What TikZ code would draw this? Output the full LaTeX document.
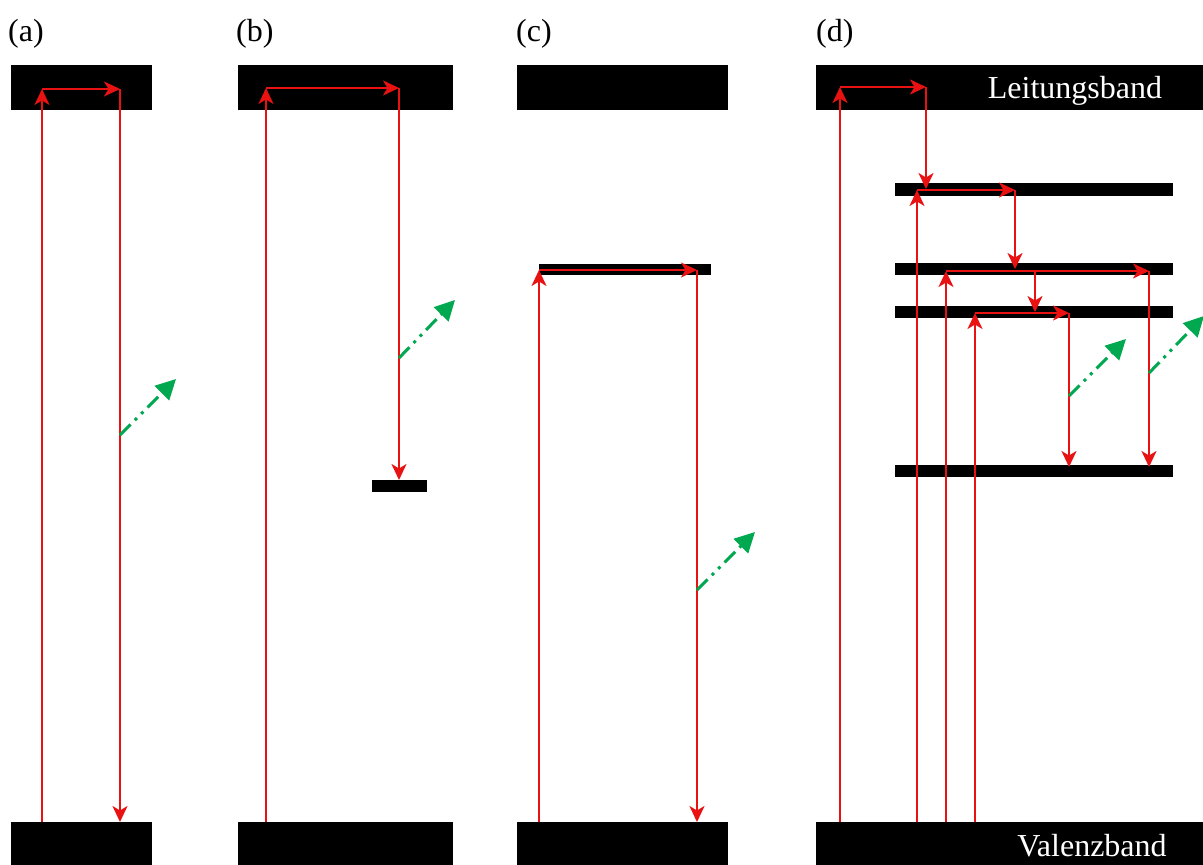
\documentclass[tikz,border=0pt]{standalone}
\usepackage{fontspec}
\setmainfont{Liberation Serif}
\usetikzlibrary{arrows.meta}
\definecolor{rd}{RGB}{232,18,18}
\definecolor{gr}{RGB}{0,168,80}
\begin{document}
\begin{tikzpicture}[x=1pt,y=-1pt,
 band/.style={fill=black,draw=none,inner sep=0pt,outer sep=0pt,anchor=north west},
 ra/.style={draw=rd,line width=2.2pt,-{Stealth[length=16pt,width=15pt,inset=4.5pt]}},
 ga/.style={draw=gr,line width=3pt,dash pattern=on 15pt off 6pt on 3pt off 6pt on 3pt off 6pt,-{Triangle[length=20pt,width=20pt]}},
 lbl/.style={font=\fontsize{32}{38}\selectfont,inner sep=0pt,anchor=base west},
 btxt/.style={font=\fontsize{32}{38}\selectfont,text=white,inner sep=0pt,anchor=base}]
\useasboundingbox (0,0) rectangle (1203,865);
% labels
\node[lbl] (la) at (8,41) {(a)};
\node[lbl] (lb) at (236,41) {(b)};
\node[lbl] (lc) at (516,41) {(c)};
\node[lbl] (ld) at (816,41) {(d)};
% bands (a)
\node[band,minimum width=141pt,minimum height=45pt] (aTop) at (11,65) {};
\node[band,minimum width=141pt,minimum height=43pt] (aBot) at (11,822) {};
% bands (b)
\node[band,minimum width=215pt,minimum height=45pt] (bTop) at (238,65) {};
\node[band,minimum width=215pt,minimum height=43pt] (bBot) at (238,822) {};
\node[band,minimum width=55pt,minimum height=12pt] (bLev) at (372,480) {};
% bands (c)
\node[band,minimum width=211pt,minimum height=45pt] (cTop) at (517,65) {};
\node[band,minimum width=211pt,minimum height=43pt] (cBot) at (517,822) {};
\node[band,minimum width=172pt,minimum height=11pt] (cLev) at (539,264) {};
% bands (d)
\node[band,minimum width=387pt,minimum height=45pt] (dTop) at (816,65) {};
\node[band,minimum width=387pt,minimum height=43pt] (dBot) at (816,822) {};
\node[band,minimum width=278pt,minimum height=13pt] (d1) at (895,183) {};
\node[band,minimum width=278pt,minimum height=12pt] (d2) at (895,263) {};
\node[band,minimum width=278pt,minimum height=12pt] (d3) at (895,306) {};
\node[band,minimum width=278pt,minimum height=12pt] (d4) at (895,465) {};
\node[btxt] (lt) at (1075,98) {Leitungsband};
\node[btxt] (vt) at (1092,856) {Valenzband};
% (a) arrows
\coordinate (a0) at (42,822); \coordinate (a1) at (42,89);
\coordinate (a2) at (120,89); \coordinate (a3) at (120,822);
\draw[ra] (a0) -- (a1); \draw[ra] (a1) -- (a2); \draw[ra] (a2) -- (a3);
\coordinate (ag0) at (120,435); \coordinate (ag1) at (176,379);
\draw[ga] (ag0) -- (ag1);
% (b) arrows
\coordinate (b0) at (266,822); \coordinate (b1) at (266,88);
\coordinate (b2) at (399,88); \coordinate (b3) at (399,480);
\draw[ra] (b0) -- (b1); \draw[ra] (b1) -- (b2); \draw[ra] (b2) -- (b3);
\coordinate (bg0) at (399,358); \coordinate (bg1) at (455,300);
\draw[ga] (bg0) -- (bg1);
% (c) arrows
\coordinate (c0) at (539,822); \coordinate (c1) at (539,270);
\coordinate (c2) at (697,270); \coordinate (c3) at (697,822);
\draw[ra] (c0) -- (c1); \draw[ra] (c1) -- (c2); \draw[ra] (c2) -- (c3);
\coordinate (cg0) at (697,590); \coordinate (cg1) at (755,532);
\draw[ga] (cg0) -- (cg1);
% (d) arrows
\coordinate (p10) at (840,822); \coordinate (p11) at (840,87);
\coordinate (p12) at (926,87); \coordinate (p13) at (926,189);
\draw[ra] (p10) -- (p11); \draw[ra] (p11) -- (p12); \draw[ra] (p12) -- (p13);
\coordinate (p20) at (917,822); \coordinate (p21) at (917,190);
\coordinate (p22) at (1015,190); \coordinate (p23) at (1015,269);
\draw[ra] (p20) -- (p21); \draw[ra] (p21) -- (p22); \draw[ra] (p22) -- (p23);
\coordinate (p30) at (946,822); \coordinate (p31) at (946,271);
\coordinate (p32) at (1149,271); \coordinate (p33) at (1149,467);
\draw[ra] (p30) -- (p31); \draw[ra] (p31) -- (p32); \draw[ra] (p32) -- (p33);
\coordinate (p40) at (1035,271); \coordinate (p41) at (1035,312);
\draw[ra] (p40) -- (p41);
\coordinate (p50) at (975,822); \coordinate (p51) at (975,313);
\coordinate (p52) at (1069,313); \coordinate (p53) at (1069,467);
\draw[ra] (p50) -- (p51); \draw[ra] (p51) -- (p52); \draw[ra] (p52) -- (p53);
\coordinate (dg0) at (1069,396); \coordinate (dg1) at (1126,339);
\draw[ga] (dg0) -- (dg1);
\coordinate (dg2) at (1149,373); \coordinate (dg3) at (1204,316);
\draw[ga] (dg2) -- (dg3);
\end{tikzpicture}
\end{document}
